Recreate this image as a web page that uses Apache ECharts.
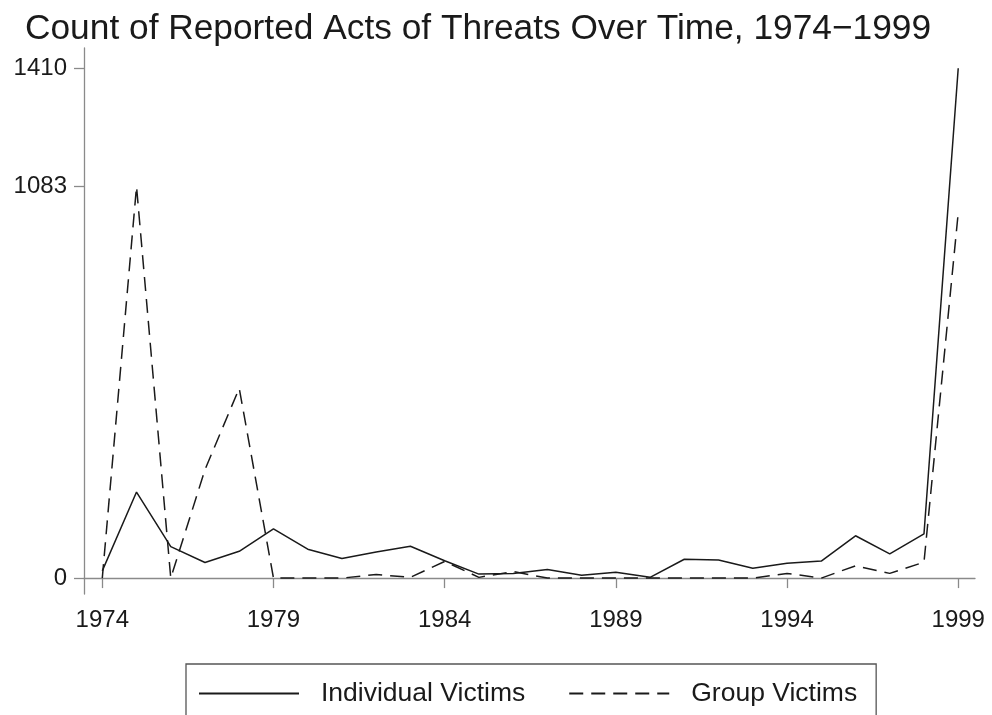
<!DOCTYPE html>
<html>
<head>
<meta charset="utf-8">
<script src="https://cdn.jsdelivr.net/npm/echarts@6/dist/echarts.min.js"></script>
<style>html,body{margin:0;padding:0;background:#fff}#c{width:992px;height:715px}</style>
</head>
<body>
<div id="c"></div>
<script>
const years = [1974,1975,1976,1977,1978,1979,1980,1981,1982,1983,1984,1985,1986,1987,1988,1989,1990,1991,1992,1993,1994,1995,1996,1997,1998,1999];
const individualVictims = [20,238,87,43,74,136,80,54,72,88,48,11,13,24,8,16,2,52,50,27,41,47,117,67,122,1410];
const groupVictims = [0,1083,0,300,525,0,0,0,10,2,46,2,18,0,0,0,0,0,0,0,13,0,34,13,44,1010];
const xTicks = [1974,1979,1984,1989,1994,1999];
const yTicks = [0,1083,1410];

const font = 'Liberation Sans, Arial, Helvetica, sans-serif';
const ink = '#1a1a1a';
const axisGray = '#8a8a8a';

const chart = echarts.init(document.getElementById('c'), null, {renderer:'canvas'});
chart.setOption({
  animation:false,
  backgroundColor:'#ffffff',
  title:{
    text:'Count of Reported Acts of Threats Over Time, 1974\u22121999',
    left:20, top:7,
    textStyle:{fontFamily:font, fontSize:35.3, fontWeight:'normal', color:ink}
  },
  grid:{left:84, right:17, top:48, bottom:121, containLabel:false},
  xAxis:{
    type:'value', min:1973.466, max:1999.49,
    axisLine:{show:true, lineStyle:{color:axisGray, width:1.3}},
    axisTick:{show:true, length:10, customValues:xTicks, lineStyle:{color:axisGray, width:1.3}},
    axisLabel:{customValues:xTicks, margin:14, fontFamily:font, fontSize:24, color:ink, formatter:v=>String(v)},
    splitLine:{show:false}
  },
  yAxis:{
    type:'value', min:-44, max:1466,
    axisLine:{show:true, lineStyle:{color:axisGray, width:1.3}},
    axisTick:{show:true, length:10, customValues:yTicks, lineStyle:{color:axisGray, width:1.3}},
    axisLabel:{customValues:yTicks, margin:17, fontFamily:font, fontSize:24, color:ink, formatter:v=>String(v)},
    splitLine:{show:false}
  },
  legend:{
    left:186, top:664,
    orient:'horizontal',
    borderColor:'#555', borderWidth:1.3,
    padding:[16, 19, 40, 12],
    itemWidth:100, itemHeight:26, itemGap:43,
    itemStyle:{opacity:0, color:'transparent', borderWidth:0},
    textStyle:{fontFamily:font, fontSize:26.5, color:ink, padding:[0,0,0,17]},
    data:['Individual Victims','Group Victims']
  },
  series:[
    {
      name:'Individual Victims', type:'line', symbol:'none',
      data:years.map((y,i)=>[y, individualVictims[i]]),
      lineStyle:{color:ink, width:1.5, type:'solid'},
      itemStyle:{color:ink}
    },
    {
      name:'Group Victims', type:'line', symbol:'none',
      data:years.map((y,i)=>[y, groupVictims[i]]),
      lineStyle:{color:ink, width:1.5, type:[14,8]},
      itemStyle:{color:ink}
    }
  ]
});
</script>
</body>
</html>
